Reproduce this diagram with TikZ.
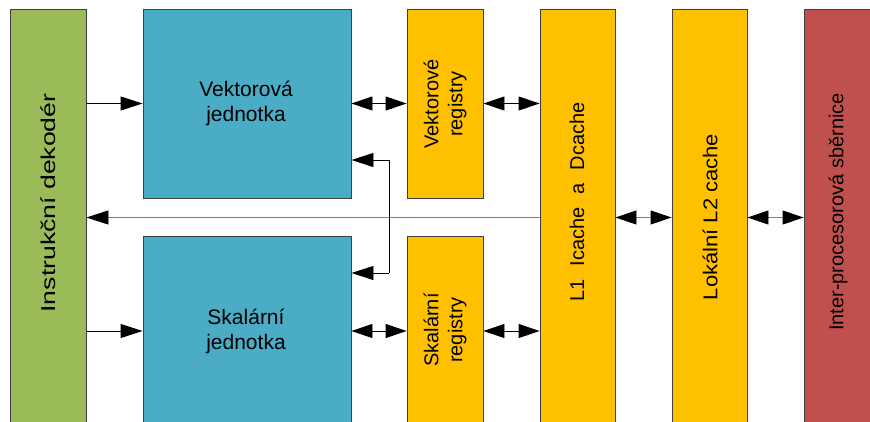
\documentclass[tikz,border=0pt]{standalone}
\usepackage{fontspec}
\setmainfont{Liberation Sans}
\usetikzlibrary{arrows.meta}
\definecolor{decgreen}{HTML}{9BBB59}
\definecolor{unitblue}{HTML}{4BACC6}
\definecolor{regorange}{HTML}{FFC000}
\definecolor{busred}{HTML}{C0504D}
\definecolor{edge}{HTML}{404040}
\definecolor{wire}{HTML}{7F7F7F}
\tikzset{
  block/.style={draw=edge, line width=0.9pt, inner sep=0pt},
  txt/.style={font=\fontsize{20}{24}\selectfont, align=center, inner sep=0pt},
  htxt/.style={txt, font=\fontsize{21}{25}\selectfont},
  vtxt/.style={txt, rotate=90},
  arr/.style={line width=0.9pt, -{Triangle[length=22pt, width=14pt, black]}},
  darr/.style={line width=0.9pt, {Triangle[length=21pt, width=14pt, black]}-{Triangle[length=21pt, width=14pt, black]}},
}
\begin{document}
\begin{tikzpicture}[x=1pt, y=-1pt]
\useasboundingbox (0,0) rectangle (870,421);
\clip (0,0) rectangle (870,421);
\fill[white] (0,0) rectangle (870,421);

% blocks
\node[block, fill=decgreen, minimum width=76pt, minimum height=417pt] (dec) at (48,217.5) {};
\node[block, fill=unitblue, minimum width=208pt, minimum height=189pt] (vu) at (247,103.5) {};
\node[block, fill=unitblue, minimum width=208pt, minimum height=190pt] (su) at (247,331) {};
\node[block, fill=regorange, minimum width=76pt, minimum height=189pt] (vr) at (445,103.5) {};
\node[block, fill=regorange, minimum width=76pt, minimum height=190pt] (sr) at (445,331) {};
\node[block, fill=regorange, minimum width=75pt, minimum height=417pt] (l1) at (577.5,217.5) {};
\node[block, fill=regorange, minimum width=75pt, minimum height=417pt] (l2) at (709.5,217.5) {};
\node[block, fill=busred, minimum width=80pt, minimum height=417pt] (bus) at (844,217.5) {};

% labels
\node[vtxt] (decl) at (48,203) {\scalebox{1.33}[1]{Instrukční dekodér}};
\node[htxt] (vul) at (246,103) {Vektorová\\jednotka};
\node[htxt] (sul) at (246,331) {Skalární\\jednotka};
\node[vtxt] (vrl) at (445,104) {Vektorové\\registry};
\node[vtxt] (srl) at (445,330) {Skalární\\registry};
\node[vtxt] (l1l) at (577,202) {L1\hspace{13pt}Icache\hspace{13pt}a\hspace{13pt}Dcache};
\node[vtxt] (l2l) at (710,217) {\scalebox{1.1}[1]{Lokální L2 cache}};
\node[vtxt] (busl) at (838,212) {Inter-procesorová sběrnice};

% connectors
\draw[arr] (dec.east |- vu.west) -- (vu.west);
\draw[arr] (dec.east |- su.west) -- (su.west);
\draw[darr] (vu.east) -- (vr.west);
\draw[darr] (vr.east) -- (l1.west |- vr.east);
\draw[darr] (su.east) -- (sr.west);
\draw[darr] (sr.east) -- (l1.west |- sr.east);
\draw[darr, draw=wire] (l1.east) -- (l2.west);
\draw[darr, draw=wire] (l2.east) -- (bus.west);
\draw[arr, draw=wire] (l1.west) -- (dec.east);

% feedback branch to both execution units
\coordinate (fbtop) at (389,160);
\coordinate (fbbot) at (389,273);
\draw[line width=0.9pt] (fbtop) -- (fbbot);
\draw[arr] (fbtop) -- (vu.east |- fbtop);
\draw[arr] (fbbot) -- (su.east |- fbbot);
\end{tikzpicture}
\end{document}
